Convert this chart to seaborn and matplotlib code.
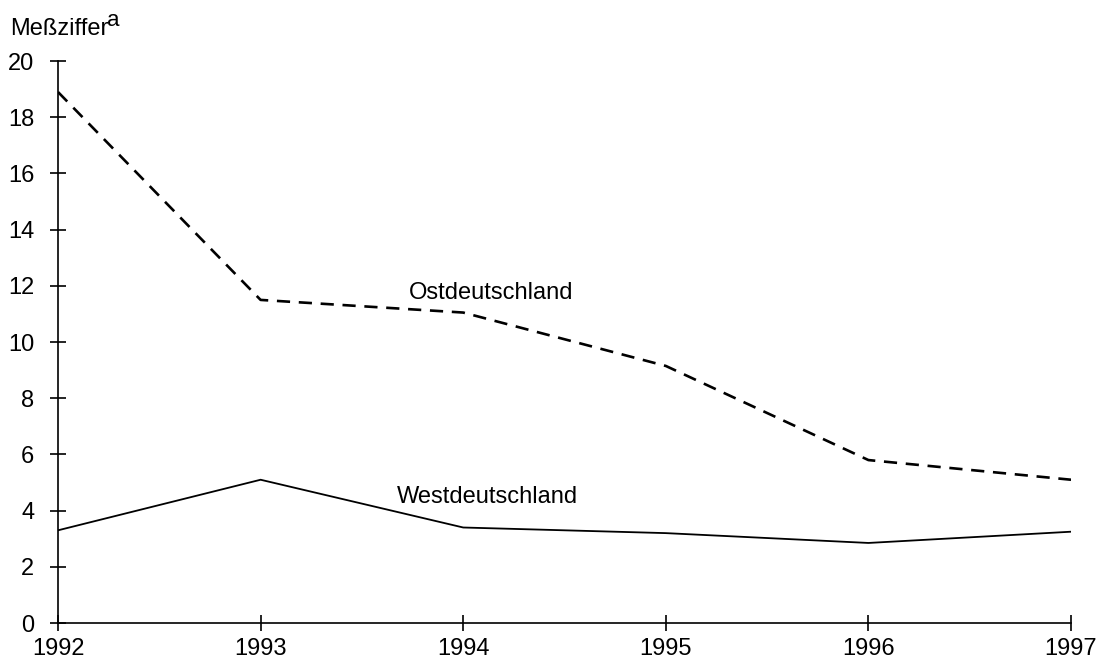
import pandas as pd
import matplotlib.pyplot as plt
import seaborn as sns

jahre = [1992, 1993, 1994, 1995, 1996, 1997]
ost = [18.9, 11.5, 11.05, 9.15, 5.8, 5.1]
west = [3.3, 5.1, 3.4, 3.2, 2.85, 3.25]

df = pd.DataFrame({'Jahr': jahre, 'Ost': ost, 'West': west})

sns.set_style('white')
plt.rcParams['font.family'] = ['Liberation Sans', 'DejaVu Sans']
plt.rcParams['text.color'] = 'black'

fig = plt.figure(figsize=(11.07, 6.64), dpi=100)
ax = fig.add_axes([0.0524, 0.0617, 0.9151, 0.8463])

sns.lineplot(data=df, x='Jahr', y='Ost', ax=ax, color='black', linewidth=1.9,
             linestyle=(0, (5, 3.3)))
sns.lineplot(data=df, x='Jahr', y='West', ax=ax, color='black', linewidth=1.3)

ax.set_xlim(1992, 1997)
ax.set_ylim(0, 20)
ax.set_xticks(jahre)
ax.set_yticks(range(0, 21, 2))
ax.set_xlabel('')
ax.set_ylabel('')
for s in ['top', 'right']:
    ax.spines[s].set_visible(False)
for s in ['left', 'bottom']:
    ax.spines[s].set_color('black')
    ax.spines[s].set_linewidth(1.2)
ax.tick_params(bottom=True, left=True, direction='inout', length=12, width=1.2,
               colors='black', labelsize=17)
ax.tick_params(axis='x', pad=5)
ax.tick_params(axis='y', pad=11)

ax.text(1994.14, 11.76, 'Ostdeutschland', fontsize=17, ha='center', va='center')
ax.text(1994.12, 4.49, 'Westdeutschland', fontsize=17, ha='center', va='center')
t = fig.text(0.009, 0.956, 'Meßziffer', fontsize=17, ha='left', va='center')
ax.annotate('a', xy=(1, 0.5), xycoords=t, xytext=(-1, 6), textcoords='offset points',
            fontsize=16, ha='left', va='center')

fig.savefig('out.png', dpi=100)
